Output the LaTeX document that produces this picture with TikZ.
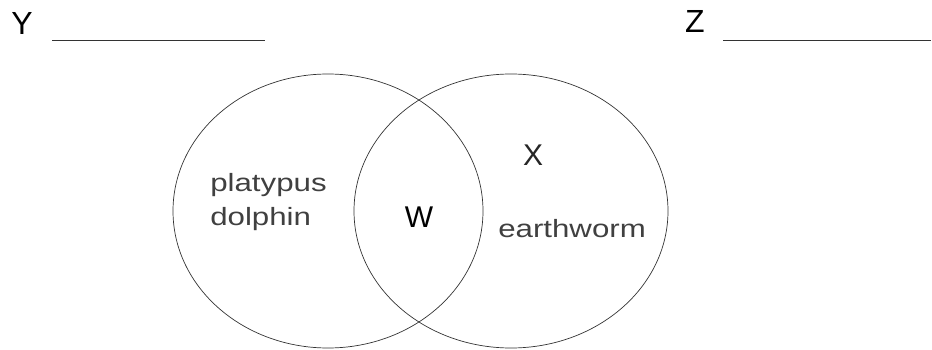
\documentclass[tikz,border=0pt]{standalone}
\usepackage{fontspec}
\setmainfont{Liberation Sans}
\begin{document}
\begin{tikzpicture}[x=1pt,y=-1pt,
  ink/.style={draw=black!80, line width=0.7pt},
  word/.style={inner sep=0pt, text=black!75, font=\fontsize{25}{30}\selectfont, xscale=1.25},
  capletter/.style={inner sep=0pt, text=black!85, font=\fontsize{30}{36}\selectfont},
  bigletter/.style={inner sep=0pt, text=black, font=\fontsize{32}{38}\selectfont},
  blank/.style={draw=black!80, line width=0.8pt}]
\useasboundingbox (0,0) rectangle (932,350);
% sets
\draw[ink] (328,211) ellipse [x radius=155pt, y radius=137pt];
\draw[ink] (511,211) ellipse [x radius=157pt, y radius=137pt];
% labels
\node[bigletter, anchor=base] (Y) at (22,35) {Y};
\node[bigletter, anchor=base] (Z) at (695,33) {Z};
\coordinate (ya) at (52,40);
\coordinate (yb) at (265,40);
\coordinate (za) at (723,40);
\coordinate (zb) at (931,40);
\draw[blank] (ya) -- (yb);
\draw[blank] (za) -- (zb);
\node[word, anchor=base west] (platypus) at (210,192) {platypus};
\node[word, anchor=base west] (dolphin) at (210,225) {dolphin};
\node[capletter, anchor=base, text=black] (W) at (419,227) {W};
\node[capletter, anchor=base] (X) at (533,165) {X};
\node[word, anchor=base west] (earthworm) at (498,237) {earthworm};
\end{tikzpicture}
\end{document}
